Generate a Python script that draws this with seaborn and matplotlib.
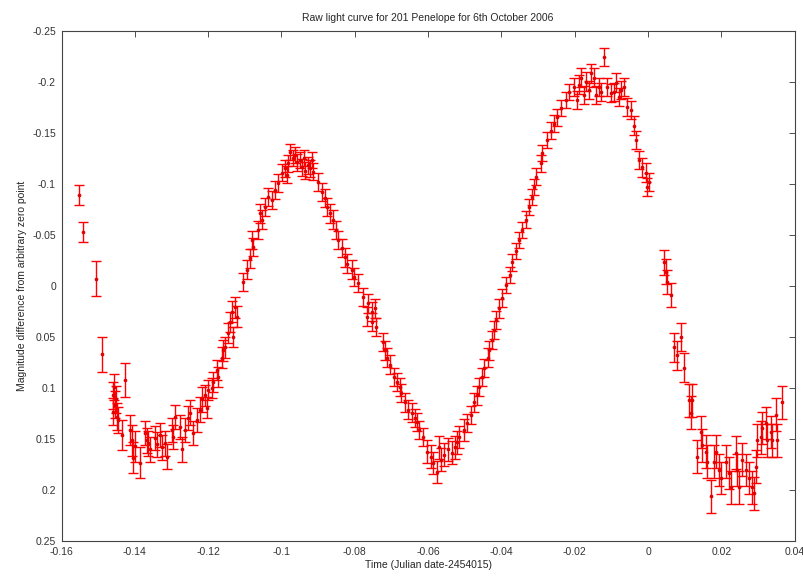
import numpy as np
import pandas as pd
import matplotlib
matplotlib.use('Agg')
import matplotlib.pyplot as plt
from matplotlib.ticker import MultipleLocator, FuncFormatter
import seaborn as sns

sns.set_style('white')
plt.rcParams['font.family'] = ['Liberation Sans', 'DejaVu Sans']
plt.rcParams['axes.unicode_minus'] = False

# time (JD - 2454015), magnitude difference, error, by segment
t_start = [-0.1552, -0.1541, -0.1505, -0.1490]
m_start = [-0.089, -0.053, -0.007, 0.067]
e_start = [0.010, 0.010, 0.017, 0.017]

t_min1 = [-0.1460, -0.1457, -0.1454, -0.1451, -0.1449, -0.1446, -0.1460, -0.1427,
          -0.1435, -0.1413, -0.1408, -0.1405, -0.1400, -0.1386, -0.1372, -0.1367,
          -0.1364, -0.1359, -0.1345, -0.1340, -0.1332, -0.1326, -0.1318, -0.1313,
          -0.1299, -0.1296, -0.1291, -0.1277, -0.1272, -0.1264, -0.1255, -0.1250,
          -0.1242, -0.1231, -0.1223, -0.1217, -0.1204, -0.1209, -0.1201, -0.1190,
          -0.1187, -0.1174, -0.1176, -0.1163, -0.1160, -0.1155, -0.1146, -0.1141,
          -0.1133, -0.1136, -0.1127, -0.1122]
m_min1 = [0.107, 0.099, 0.116, 0.111, 0.128, 0.131, 0.123, 0.092,
          0.146, 0.141, 0.151, 0.168, 0.157, 0.173, 0.144, 0.151,
          0.154, 0.160, 0.149, 0.155, 0.146, 0.158, 0.154, 0.167,
          0.141, 0.148, 0.128, 0.138, 0.160, 0.141, 0.129, 0.124,
          0.144, 0.131, 0.121, 0.111, 0.119, 0.107, 0.102, 0.100,
          0.094, 0.089, 0.082, 0.070, 0.063, 0.060, 0.046, 0.035,
          0.050, 0.025, 0.021, 0.030]
e_min1 = [0.013, 0.013, 0.013, 0.013, 0.013, 0.013, 0.013, 0.017,
          0.015, 0.015, 0.015, 0.015, 0.015, 0.015, 0.012, 0.012,
          0.012, 0.012, 0.012, 0.012, 0.012, 0.012, 0.012, 0.012,
          0.012, 0.012, 0.012, 0.012, 0.012, 0.012, 0.012, 0.012,
          0.012, 0.012, 0.012, 0.012, 0.010, 0.010, 0.010, 0.010,
          0.010, 0.010, 0.010, 0.010, 0.010, 0.010, 0.010, 0.010,
          0.010, 0.010, 0.010, 0.010]

t_peak1 = [-0.1106, -0.1095, -0.1087, -0.1081, -0.1078, -0.1065, -0.1059, -0.1054,
           -0.1046, -0.1037, -0.1027, -0.1018, -0.1010, -0.0999, -0.0991, -0.0983,
           -0.0978, -0.0969, -0.0959, -0.0950, -0.0945, -0.0937, -0.0929, -0.0918,
           -0.0915, -0.0901, -0.0890, -0.0882, -0.0877, -0.0869, -0.0860, -0.0850,
           -0.0847, -0.0836, -0.0828, -0.0820, -0.0809, -0.0801, -0.0792, -0.0779,
           -0.0765, -0.0768, -0.0754, -0.0752, -0.0964, -0.0939, -0.0923, -0.0986]
m_peak1 = [-0.004, -0.016, -0.027, -0.045, -0.038, -0.055, -0.071, -0.065,
           -0.077, -0.087, -0.084, -0.094, -0.101, -0.111, -0.115, -0.120,
           -0.131, -0.125, -0.121, -0.123, -0.116, -0.113, -0.118, -0.123,
           -0.112, -0.102, -0.092, -0.086, -0.077, -0.071, -0.065, -0.055,
           -0.045, -0.037, -0.028, -0.022, -0.016, -0.009, -0.003, 0.011,
           0.017, 0.030, 0.025, 0.035, -0.128, -0.125, -0.115, -0.109]
e_peak1 = [0.009, 0.009, 0.009, 0.009, 0.009, 0.009, 0.009, 0.009,
           0.009, 0.009, 0.009, 0.009, 0.009, 0.008, 0.008, 0.008,
           0.008, 0.008, 0.008, 0.008, 0.008, 0.008, 0.008, 0.008,
           0.008, 0.009, 0.009, 0.009, 0.009, 0.009, 0.009, 0.009,
           0.009, 0.009, 0.009, 0.009, 0.009, 0.009, 0.009, 0.009,
           0.009, 0.009, 0.009, 0.009, 0.008, 0.008, 0.008, 0.008]

t_min2 = [-0.0746, -0.0741, -0.0724, -0.0719, -0.0711, -0.0705, -0.0692, -0.0686,
          -0.0678, -0.0673, -0.0664, -0.0656, -0.0645, -0.0637, -0.0629, -0.0624,
          -0.0615, -0.0602, -0.0591, -0.0588, -0.0577, -0.0569, -0.0564, -0.0556,
          -0.0547, -0.0536, -0.0528, -0.0520, -0.0515, -0.0501, -0.0493, -0.0482,
          -0.0474, -0.0468, -0.0460, -0.0452, -0.0447, -0.0438, -0.0433, -0.0425,
          -0.0419, -0.0414, -0.0406, -0.0398]
m_min2 = [0.022, 0.040, 0.055, 0.063, 0.070, 0.077, 0.089, 0.094,
          0.099, 0.105, 0.114, 0.121, 0.124, 0.129, 0.133, 0.141,
          0.148, 0.162, 0.167, 0.173, 0.182, 0.158, 0.170, 0.165,
          0.160, 0.163, 0.158, 0.153, 0.148, 0.141, 0.134, 0.126,
          0.114, 0.107, 0.099, 0.089, 0.080, 0.070, 0.063, 0.053,
          0.043, 0.033, 0.022, 0.012]
e_min2 = [0.009, 0.009, 0.009, 0.009, 0.009, 0.009, 0.009, 0.009,
          0.009, 0.009, 0.009, 0.009, 0.009, 0.009, 0.009, 0.009,
          0.009, 0.011, 0.011, 0.011, 0.011, 0.011, 0.011, 0.011,
          0.011, 0.011, 0.011, 0.011, 0.011, 0.011, 0.009, 0.009,
          0.009, 0.009, 0.009, 0.009, 0.009, 0.009, 0.009, 0.009,
          0.009, 0.009, 0.009, 0.009]

t_peak2 = [-0.0387, -0.0378, -0.0370, -0.0359, -0.0351, -0.0343, -0.0332, -0.0324,
           -0.0316, -0.0310, -0.0305, -0.0291, -0.0289, -0.0275, -0.0264, -0.0256,
           -0.0248, -0.0237, -0.0223, -0.0215, -0.0202, -0.0193, -0.0182, -0.0169,
           -0.0155, -0.0147, -0.0133, -0.0120, -0.0112, -0.0101, -0.0087, -0.0079,
           -0.0065, -0.0057, -0.0046, -0.0038, -0.0033, -0.0025, -0.0016, -0.0005,
           0.0003, -0.0003, -0.0174, -0.0161, -0.0142, -0.0128, -0.0093, -0.0074,
           -0.0188]
m_peak2 = [-0.001, -0.011, -0.023, -0.034, -0.045, -0.055, -0.065, -0.077,
           -0.087, -0.097, -0.107, -0.120, -0.130, -0.143, -0.152, -0.159,
           -0.165, -0.174, -0.182, -0.190, -0.195, -0.182, -0.204, -0.200,
           -0.208, -0.204, -0.195, -0.224, -0.195, -0.189, -0.199, -0.185,
           -0.195, -0.175, -0.172, -0.157, -0.143, -0.123, -0.116, -0.111,
           -0.102, -0.097, -0.187, -0.192, -0.187, -0.190, -0.190, -0.192,
           -0.197]
e_peak2 = [0.008, 0.008, 0.008, 0.008, 0.008, 0.008, 0.008, 0.008,
           0.008, 0.008, 0.008, 0.008, 0.008, 0.008, 0.008, 0.008,
           0.008, 0.008, 0.008, 0.008, 0.009, 0.009, 0.009, 0.009,
           0.009, 0.009, 0.009, 0.009, 0.009, 0.009, 0.009, 0.009,
           0.009, 0.009, 0.009, 0.009, 0.009, 0.009, 0.009, 0.009,
           0.009, 0.009, 0.009, 0.009, 0.009, 0.009, 0.009, 0.009,
           0.009]

t_min3 = [0.0044, 0.0049, 0.0052, 0.0063, 0.0090, 0.0071, 0.0079, 0.0098,
          0.0112, 0.0120, 0.0117, 0.0144, 0.0147, 0.0133, 0.0161, 0.0158,
          0.0185, 0.0180, 0.0193, 0.0199, 0.0172, 0.0212, 0.0221, 0.0226,
          0.0240, 0.0242, 0.0248, 0.0256, 0.0267, 0.0275, 0.0283, 0.0289,
          0.0294, 0.0297, 0.0308, 0.0310, 0.0321, 0.0324, 0.0335, 0.0338,
          0.0349, 0.0351, 0.0365]
m_min3 = [-0.023, -0.014, -0.004, 0.009, 0.050, 0.060, 0.068, 0.080,
          0.112, 0.112, 0.124, 0.143, 0.156, 0.167, 0.172, 0.162,
          0.162, 0.172, 0.180, 0.188, 0.206, 0.172, 0.183, 0.197,
          0.163, 0.180, 0.197, 0.170, 0.180, 0.188, 0.197, 0.203,
          0.177, 0.151, 0.148, 0.139, 0.134, 0.151, 0.143, 0.151,
          0.126, 0.151, 0.114]
e_min3 = [0.012, 0.012, 0.012, 0.012, 0.014, 0.014, 0.014, 0.014,
          0.016, 0.016, 0.016, 0.016, 0.016, 0.016, 0.016, 0.016,
          0.016, 0.016, 0.016, 0.016, 0.016, 0.016, 0.016, 0.016,
          0.016, 0.016, 0.016, 0.016, 0.016, 0.016, 0.016, 0.016,
          0.016, 0.016, 0.016, 0.016, 0.016, 0.016, 0.016, 0.016,
          0.016, 0.016, 0.016]

obs = pd.DataFrame({
    'time': np.concatenate([t_start, t_min1, t_peak1, t_min2, t_peak2, t_min3]),
    'mag': np.concatenate([m_start, m_min1, m_peak1, m_min2, m_peak2, m_min3]),
    'err': np.concatenate([e_start, e_min1, e_peak1, e_min2, e_peak2, e_min3]),
})

fig = plt.figure(figsize=(8.04, 5.76), dpi=100)
ax = fig.add_axes([0.0765, 0.060, 0.912, 0.887])

ax.errorbar(obs['time'], obs['mag'], yerr=obs['err'], fmt='none',
            color='red', ecolor='red', elinewidth=1.0,
            capsize=3.5, capthick=1.0)
sns.scatterplot(data=obs, x='time', y='mag', color='#e00000', s=7, linewidth=0,
                ax=ax, zorder=3)

ax.set_xlim(-0.16, 0.04)
ax.set_ylim(0.25, -0.25)
ax.xaxis.set_major_locator(MultipleLocator(0.02))
ax.yaxis.set_major_locator(MultipleLocator(0.05))
fmt = FuncFormatter(lambda v, p: '0' if abs(v) < 1e-9 else f'{round(v, 4):g}')
ax.xaxis.set_major_formatter(fmt)
ax.yaxis.set_major_formatter(fmt)
ax.tick_params(direction='in', top=True, right=True, length=4, width=0.6,
               labelsize=7.5, pad=4, colors='#333333')

for s in ax.spines.values():
    s.set_linewidth(0.8)
    s.set_color('#444444')

ax.set_title('Raw light curve for 201 Penelope for 6th October 2006', fontsize=7.5, pad=7)
ax.set_xlabel('Time (Julian date-2454015)', fontsize=7.5, labelpad=2)
ax.set_ylabel('Magnitude difference from arbitrary zero point', fontsize=7.5, labelpad=4)

fig.savefig('out.png', dpi=100)
